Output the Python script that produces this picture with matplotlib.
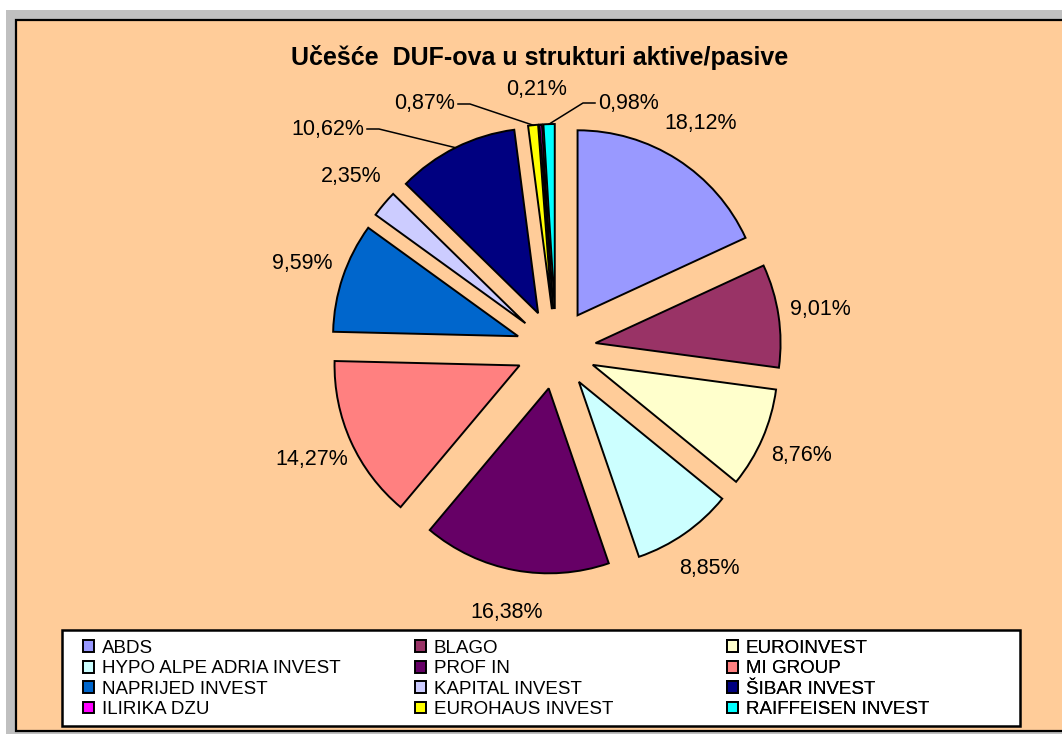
import numpy as np
import matplotlib.pyplot as plt
from matplotlib.patches import Rectangle

plt.rcParams['font.family'] = ['Liberation Sans', 'DejaVu Sans']

# Udjeli DUF-ova (redoslijed kao u legendi)
fondovi = ['ABDS', 'BLAGO', 'EUROINVEST', 'HYPO ALPE ADRIA INVEST', 'PROF IN',
           'MI GROUP', 'NAPRIJED INVEST', 'KAPITAL INVEST', 'ŠIBAR INVEST',
           'ILIRIKA DZU', 'EUROHAUS INVEST', 'RAIFFEISEN INVEST']
udjeli = [18.12, 9.01, 8.76, 8.85, 16.38, 14.27, 9.59, 2.35, 10.62, 0.21, 0.87, 0.98]
boje = ['#9999FF', '#993366', '#FFFFCC', '#CCFFFF', '#660066', '#FF8080',
        '#0066CC', '#CCCCFF', '#000080', '#FF00FF', '#FFFF00', '#00FFFF']
# redoslijed kriski u krugu (na slici EUROHAUS dolazi prije ILIRIKE)
redoslijed_pite = [0, 1, 2, 3, 4, 5, 6, 7, 8, 10, 9, 11]

W, H = 1062, 734
fig = plt.figure(figsize=(W / 100, H / 100), dpi=100)
ax = fig.add_axes([0, 0, 1, 1])

# pozadina (sivi rub i okvir grafa)
ax.add_patch(Rectangle((6, 0), W, H - 10, facecolor='#C0C0C0', edgecolor='none', zorder=0))
ax.add_patch(Rectangle((16, 3), W, H - 23, facecolor='#FFCC99', edgecolor='black',
                       linewidth=1.6, zorder=0.5))

# pita
centar = (556, H - 349)
r = 185
pomak = 40
vals = [udjeli[i] for i in redoslijed_pite]
cols = [boje[i] for i in redoslijed_pite]
wedges, _ = ax.pie(vals, colors=cols, radius=r, center=centar,
                   explode=[pomak] * len(vals), startangle=90, counterclock=False,
                   wedgeprops=dict(edgecolor='black', linewidth=1.4), frame=True)


def natpis(v):
    return f"{v:.2f}".replace('.', ',') + '%'


# natpisi s linijom: (x, y na slici, poravnanje)
posebni = {8: (364, 129, 'right'), 10: (455, 104, 'right'),
           9: (537, 90, 'center'), 11: (598, 103, 'left')}

for k, w in enumerate(wedges):
    i = redoslijed_pite[k]
    kut = np.deg2rad((w.theta1 + w.theta2) / 2)
    cx, cy = w.center
    if i in posebni:
        tx, ty, ha = posebni[i]
        ty = H - ty
        ax.text(tx, ty, natpis(udjeli[i]), ha=ha, va='center', fontsize=15.5, zorder=4)
        if ha == 'center':
            continue
        s = 1 if ha == 'right' else -1
        px, py = cx + r * np.cos(kut), cy + r * np.sin(kut)
        ax.plot([tx + 3 * s, tx + 15 * s, px], [ty, ty, py], color='black', lw=1.1, zorder=4)
    else:
        d = 1.23 * r
        ax.text(cx + d * np.cos(kut), cy + d * np.sin(kut), natpis(udjeli[i]),
                ha='center', va='center', fontsize=15.5, zorder=4)

ax.text(540, H - 57, 'Učešće  DUF-ova u strukturi aktive/pasive', ha='center',
        va='center', fontsize=18, fontweight='bold')

# legenda: okvir i tri stupca
ax.add_patch(Rectangle((62, H - 726), 958, 96, facecolor='white', edgecolor='black',
                       linewidth=1.8, zorder=2))
kolone_x = [83, 415, 727]
for c, x0 in enumerate(kolone_x):
    idx = list(range(c, len(fondovi), 3))
    handles = [wedges[redoslijed_pite.index(i)] for i in idx]
    leg = ax.legend(handles, [fondovi[i] for i in idx], loc='upper left',
                    bbox_to_anchor=(x0, H - 640), bbox_transform=ax.transData,
                    frameon=False, fontsize=13.5, borderpad=0, borderaxespad=0,
                    handlelength=0.6, handleheight=0.6, handletextpad=0.4,
                    labelspacing=0.18)
    ax.add_artist(leg)

ax.set_xlim(0, W)
ax.set_ylim(0, H)
ax.set_aspect('auto')
ax.axis('off')

fig.savefig('out.png', dpi=100, facecolor='white')
